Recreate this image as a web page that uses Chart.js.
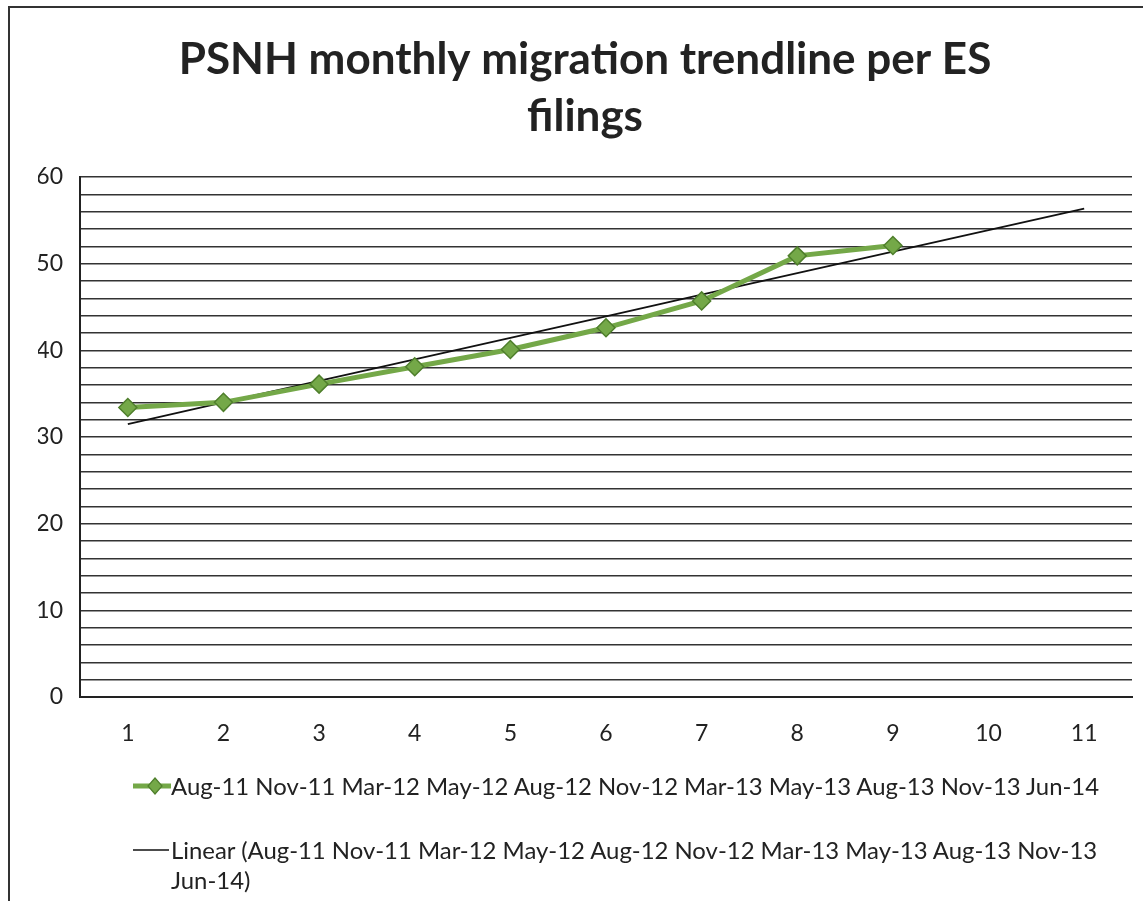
<!DOCTYPE html>
<html>
<head>
<meta charset="utf-8">
<script src="https://cdn.jsdelivr.net/npm/chart.js@4.4.1/dist/chart.umd.min.js"></script>
<style>
  html, body { margin: 0; padding: 0; background: #fff; }
  #wrap { position: relative; width: 1143px; height: 901px; overflow: hidden; font-family: Lato, "Open Sans", sans-serif; }
  #frame { position: absolute; left: 8px; top: 6px; width: 1200px; height: 1000px; border-left: 2px solid #333; border-top: 2px solid #333; }
  #chart { position: absolute; left: 0; top: 0; }
  #legend { position: absolute; left: 133px; top: 771px; font-size: 23.9px; color: #222; }
  .item { display: flex; align-items: flex-start; white-space: nowrap; line-height: 30px; }
  .item + .item { margin-top: 34px; }
  .mark { width: 38px; height: 30px; flex: none; }
</style>
</head>
<body>
<div id="wrap">
  <div id="frame"></div>
  <canvas id="chart" width="1143" height="901"></canvas>
  <div id="legend"></div>
</div>
<script>
// x positions (1..11) and the month each stands for
const xLabels = ["1", "2", "3", "4", "5", "6", "7", "8", "9", "10", "11"];
const months = ["Aug-11", "Nov-11", "Mar-12", "May-12", "Aug-12", "Nov-12", "Mar-13", "May-13", "Aug-13", "Nov-13", "Jun-14"];

// migration values (no data yet for 10 and 11)
const migration = [33.4, 34.0, 36.1, 38.1, 40.1, 42.6, 45.7, 50.9, 52.1, null, null];

const yTicks = { min: 0, max: 60, step: 2, labelStep: 10 };

const seriesLabel = months.join(" ");
const trendLabel = "Linear (" + seriesLabel + ")";

// least squares trendline over the known points, extended to all x
function linearTrend(values) {
  const pts = values.map((v, i) => [i + 1, v]).filter(p => p[1] != null);
  const n = pts.length;
  const mx = pts.reduce((s, p) => s + p[0], 0) / n;
  const my = pts.reduce((s, p) => s + p[1], 0) / n;
  let num = 0, den = 0;
  pts.forEach(p => { num += (p[0] - mx) * (p[1] - my); den += (p[0] - mx) ** 2; });
  const slope = num / den;
  return values.map((v, i) => my + slope * (i + 1 - mx));
}
const trend = linearTrend(migration);

const green = "#74a848";
const greenDark = "#4f7f2c";

new Chart(document.getElementById("chart"), {
  type: "line",
  data: {
    labels: xLabels,
    datasets: [
      {
        label: seriesLabel,
        data: migration,
        borderColor: green,
        borderWidth: 5,
        pointStyle: "rectRot",
        pointRadius: 9,
        pointBackgroundColor: green,
        pointBorderColor: greenDark,
        pointBorderWidth: 1.5,
        tension: 0,
        order: 1
      },
      {
        label: trendLabel,
        data: trend,
        borderColor: "#111",
        borderWidth: 1.8,
        pointRadius: 0,
        tension: 0,
        order: 2
      }
    ]
  },
  options: {
    responsive: false,
    animation: false,
    layout: { padding: { left: 38, right: 11, top: 0, bottom: 144 } },
    plugins: {
      legend: { display: false },
      tooltip: { enabled: false },
      title: {
        display: true,
        text: ["PSNH monthly migration trendline per ES", "filings"],
        color: "#222",
        font: { family: "Lato", size: 44, weight: "bold", lineHeight: 57 / 44 },
        padding: { top: 31, bottom: 32 }
      }
    },
    scales: {
      x: {
        offset: true,
        grid: { display: false, drawTicks: false },
        border: { display: true, color: "#222", width: 2 },
        ticks: { color: "#222", padding: 23, font: { family: "Lato", size: 23 } },
        afterFit: axis => { axis.height = 60; }
      },
      y: {
        min: yTicks.min,
        max: yTicks.max,
        grid: { color: "#333", lineWidth: 1.6, drawTicks: false },
        border: { display: true, color: "#222", width: 2 },
        ticks: {
          stepSize: yTicks.step,
          autoSkip: false,
          maxTicksLimit: 100,
          padding: 17,
          color: "#222",
          font: { family: "Lato", size: 23 },
          callback: v => (v % yTicks.labelStep === 0 ? v : "")
        },
        afterFit: axis => { axis.width = 42; }
      }
    }
  }
});

// legend below the chart, two entries with the long labels
const legend = document.getElementById("legend");
legend.innerHTML =
  '<div class="item"><svg class="mark" viewBox="0 0 38 30">' +
  '<line x1="0" y1="15" x2="38" y2="15" stroke="' + green + '" stroke-width="5"/>' +
  '<polygon points="22,7 29,15 22,23 15,15" fill="' + green + '" stroke="' + greenDark + '" stroke-width="1.2"/></svg>' +
  '<span>' + seriesLabel + '</span></div>' +
  '<div class="item"><svg class="mark" viewBox="0 0 38 30">' +
  '<line x1="0" y1="15" x2="36" y2="15" stroke="#111" stroke-width="1.6"/></svg>' +
  '<span>' + "Linear (" + months.slice(0, 10).join(" ") + "<br>" + months[10] + ")" + '</span></div>';
</script>
</body>
</html>
